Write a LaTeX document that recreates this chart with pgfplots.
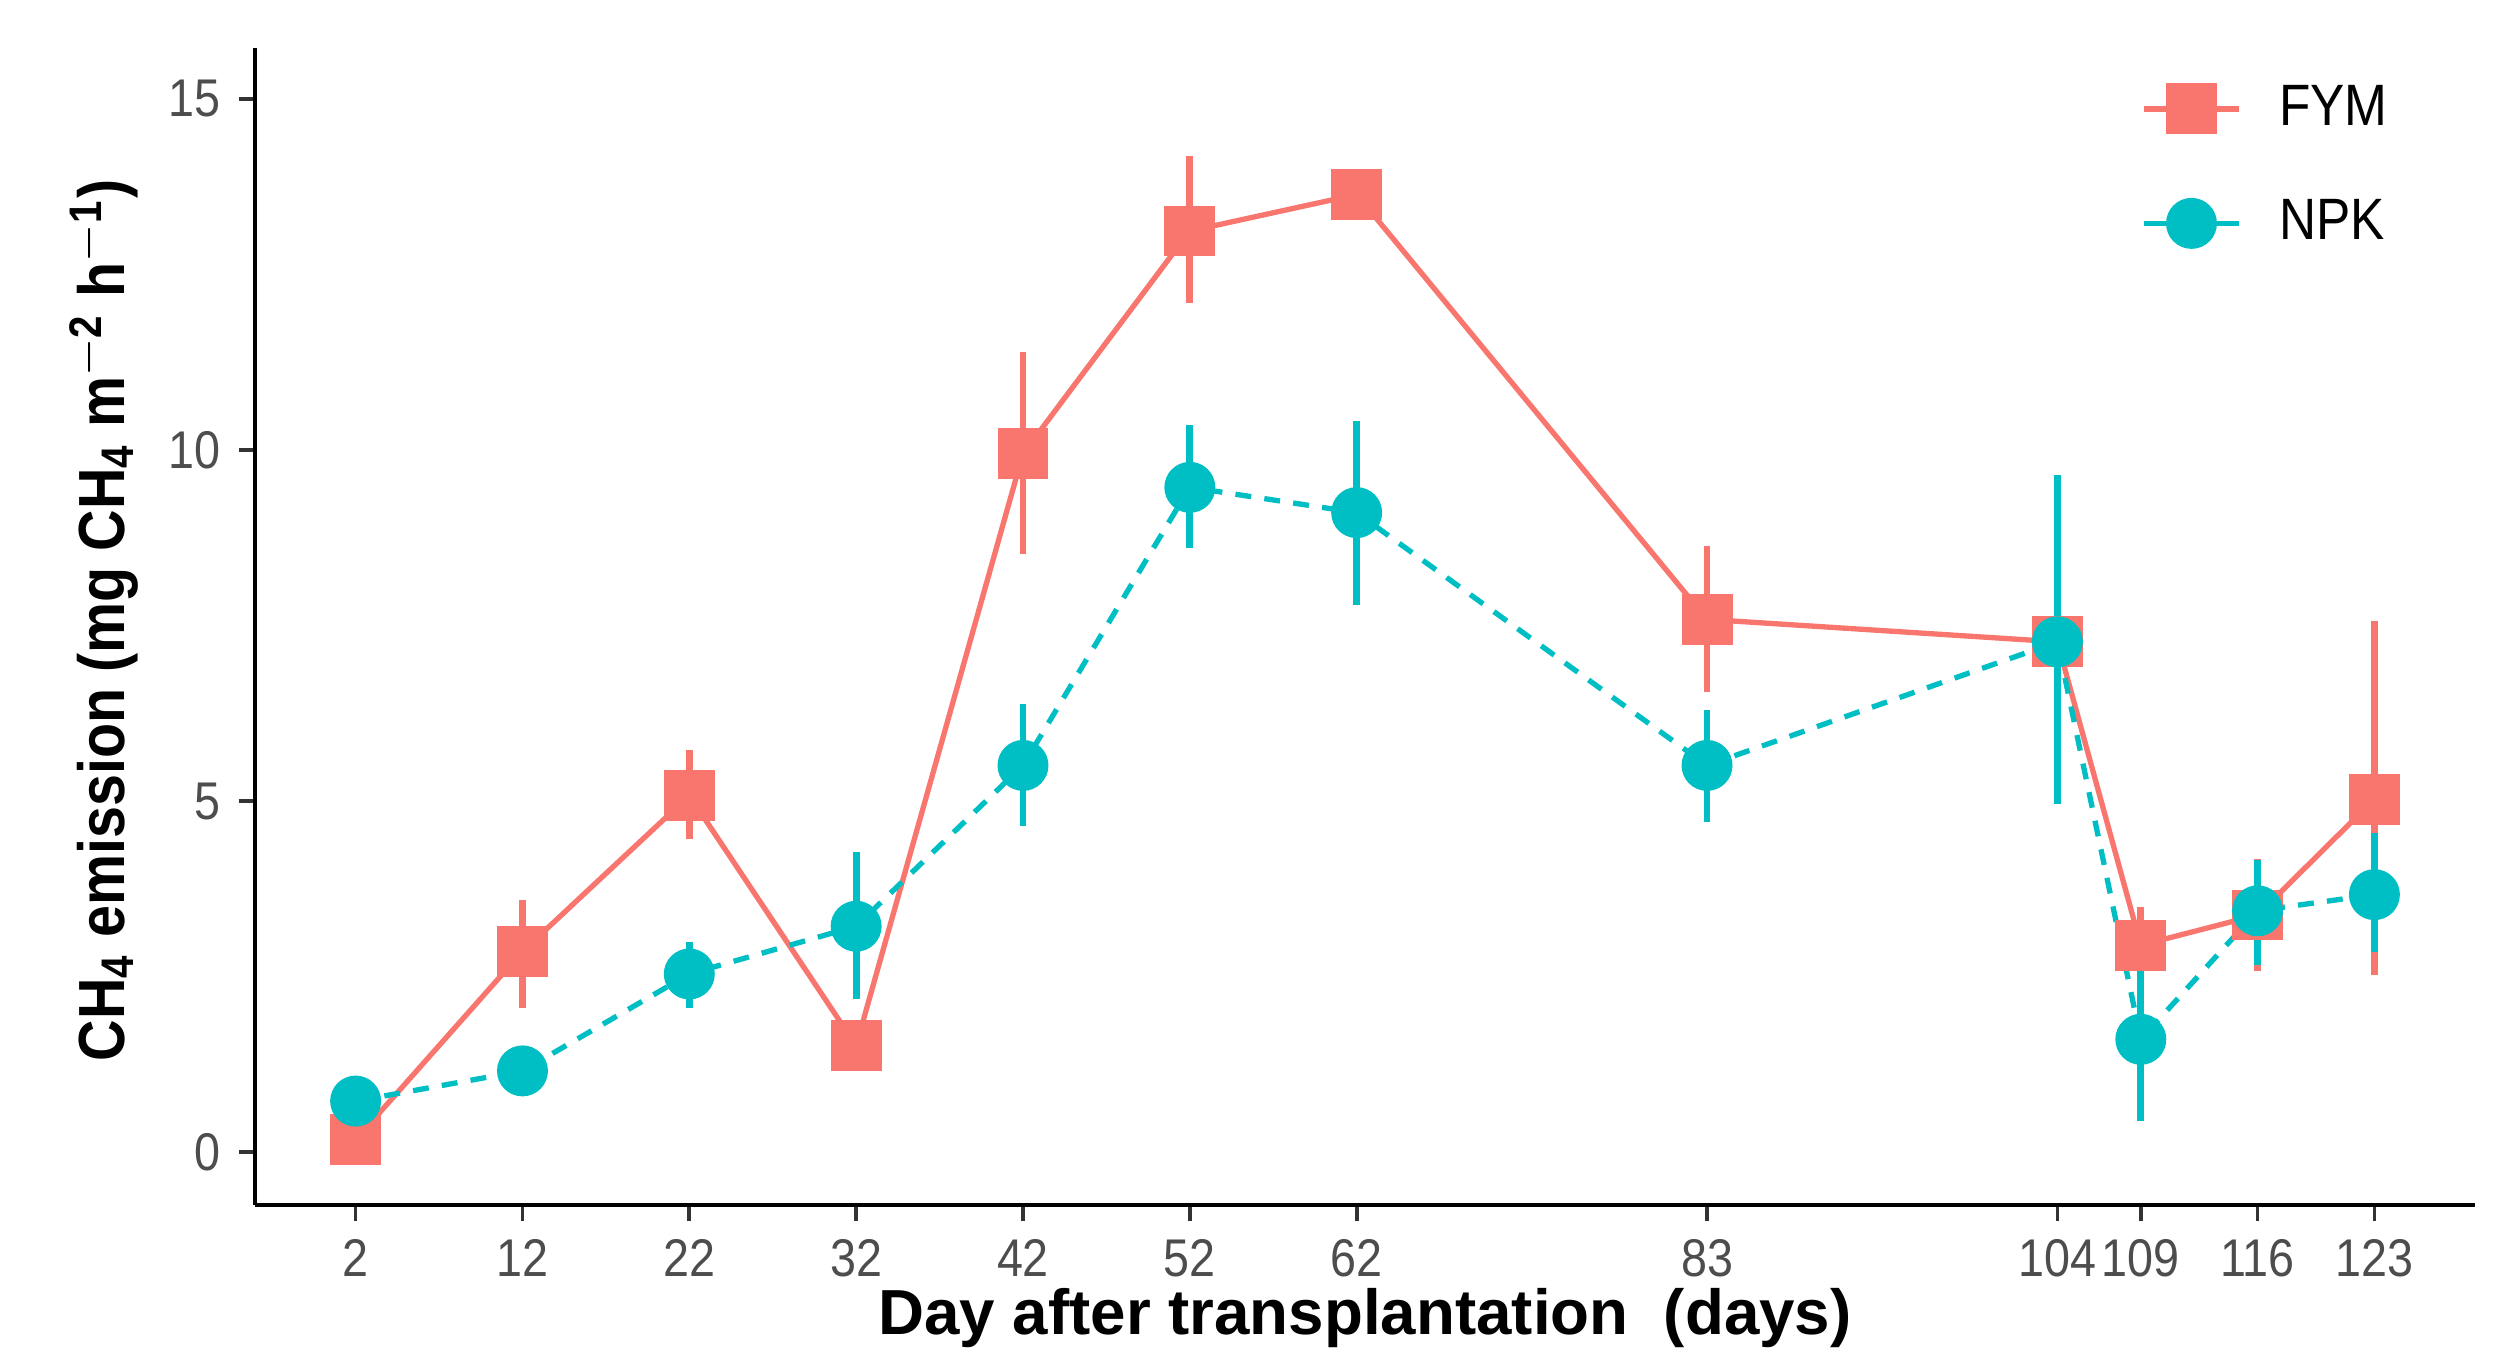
\documentclass[border=0pt]{standalone}
\usepackage{pgfplots}
\pgfplotsset{compat=1.18}
\usepackage{pgfplotstable}
\usepackage{fontspec}
\setmainfont{Liberation Sans}[FakeStretch=0.88]
\newfontfamily\labelfont{Liberation Sans}
\definecolor{fym}{HTML}{F8766D}
\definecolor{npk}{HTML}{00BFC4}
\definecolor{tickgray}{HTML}{4D4D4D}
\definecolor{tickline}{HTML}{333333}

\pgfplotstableread{
x y ep em
2 0.18 0 0
12 2.86 0.74 0.80
22 5.08 0.65 0.62
32 1.52 0 0
42 9.95 1.45 1.43
52 13.12 1.07 1.02
62 13.64 0.2 0.2
83 7.59 1.04 1.04
104 7.27 0 0
109 2.95 0.54 0.54
116 3.38 0.8 0.8
123 5.03 2.54 2.51
}\fym

\pgfplotstableread{
x y ep em
2 0.73 0.2 0.2
12 1.16 0 0
22 2.54 0.45 0.48
32 3.22 1.06 1.04
42 5.51 0.88 0.86
52 9.47 0.89 0.86
62 9.11 1.31 1.31
83 5.51 0.79 0.80
104 7.27 2.38 2.31
109 1.61 1.16 1.16
116 3.44 0.73 0.77
123 3.67 0.88 0.82
}\npk

\begin{document}
\begin{tikzpicture}
\useasboundingbox (-48pt,-27pt) rectangle (422.4pt,227.1pt);
\begin{axis}[
  at={(0,0)}, anchor=south west,
  scale only axis,
  width=418.5pt, height=218.1pt,
  xmin=-4.05, xmax=129.05,
  ymin=-0.75, ymax=15.73,
  axis x line*=bottom, axis y line*=left,
  axis line style={line width=0.8pt, black, -},
  xtick={2,12,22,32,42,52,62,83,104,109,116,123},
  ytick={0,5,10,15},
  tick align=outside,
  major tick length=3pt,
  tick style={line width=0.7pt, tickline},
  ticklabel style={font=\fontsize{10}{12}\selectfont, text=tickgray},
  /pgf/number format/assume math mode=true,
  xlabel={\labelfont\bfseries Day after transplantation\ \ (days)},
  ylabel={\bfseries CH\textsubscript{4} emission (mg CH\textsubscript{4} m\textsuperscript{$-$2} h\textsuperscript{$-$1})},
  xlabel style={font=\fontsize{12}{14}\selectfont, at={(axis description cs:0.5,-0.098)}, anchor=center},
  ylabel style={font=\fontsize{12.3}{14}\selectfont, at={(axis description cs:-0.068,0.505)}, anchor=center},
  legend style={draw=none, fill=none, inner sep=0pt, at={(axis description cs:0.849,0.978)}, anchor=north west,
    font=\fontsize{11}{13}\selectfont, row sep=8.5pt, cells={anchor=west}},
  legend image code/.code={\draw[mark repeat=2, mark phase=2, solid] plot coordinates {(0pt,0pt)(9pt,0pt)(18pt,0pt)};},
  legend cell align=left,
]
\addplot[fym, line width=1pt, mark=square*, mark size=4.3pt, mark options={solid, fill=fym, draw=fym},
  error bars/.cd, y dir=both, y explicit, error mark=none,
  error bar style={line width=1.3pt, fym, solid}]
  table[x=x, y=y, y error plus=ep, y error minus=em]{\fym};
\addlegendentry{\hspace{5pt}FYM}
\addplot[npk, line width=1pt, dash pattern=on 3pt off 2.5pt, mark=*, mark size=4.3pt, mark options={solid, fill=npk, draw=npk},
  error bars/.cd, y dir=both, y explicit, error mark=none,
  error bar style={line width=1.3pt, npk, solid}]
  table[x=x, y=y, y error plus=ep, y error minus=em]{\npk};
\addlegendentry{\hspace{5pt}NPK}
\end{axis}
\end{tikzpicture}
\end{document}
